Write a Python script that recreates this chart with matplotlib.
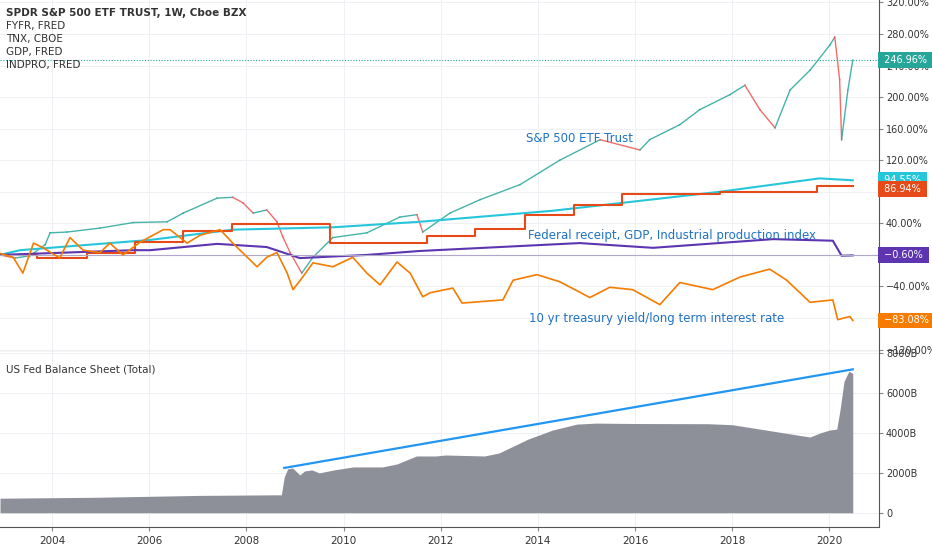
import numpy as np
import matplotlib.pyplot as plt

# S&P 500 ETF (SPY), % change
spy_t = [2002.93, 2003.24, 2003.55, 2003.86, 2003.96, 2004.31, 2004.99, 2005.67, 2006.37, 2006.70,
         2007.40, 2007.72, 2007.93, 2008.14, 2008.42, 2008.63, 2008.75, 2008.90, 2009.14, 2009.37,
         2009.78, 2010.48, 2011.16, 2011.51, 2011.63, 2012.19, 2012.81, 2013.63, 2014.45, 2015.28,
         2016.10, 2016.30, 2016.92, 2017.33, 2017.95, 2018.26, 2018.57, 2018.88, 2019.19, 2019.60,
         2020.01, 2020.11, 2020.21, 2020.25, 2020.38, 2020.48]
spy_v = [0, -4, -1, 13, 28, 29, 34, 41, 42, 53,
         72, 73, 66, 53, 57, 42, 23, 3, -23, -3,
         22, 28, 48, 51, 29, 53, 70, 89, 120, 146,
         133, 146, 165, 184, 203, 215, 184, 161, 209, 234,
         266, 276, 222, 146, 209, 246.96]

# GDP (cyan)
gdp_t = [2002.93, 2003.34, 2006.02, 2007.72, 2009.78, 2011.57, 2014.31, 2017.74, 2019.80, 2020.07, 2020.48]
gdp_v = [0, 6, 19, 32, 35, 42, 56, 80, 97, 96, 94.55]

# Federal receipts (step)
fyfr_t = [2002.93, 2003.69, 2004.72, 2005.71, 2006.70, 2007.70, 2009.72, 2011.72, 2012.70, 2013.73,
          2014.74, 2015.73, 2017.74, 2019.74, 2020.48]
fyfr_v = [0, -4, 2, 16, 30, 39, 15, 24, 33, 51, 63, 77, 80, 86.94, 86.94]

# Industrial production
indpro_t = [2002.93, 2005.67, 2006.02, 2007.40, 2008.42, 2009.10, 2010.48, 2011.57, 2014.86, 2016.37,
            2018.84, 2020.07, 2020.25, 2020.48]
indpro_v = [0, 6, 6, 14, 10, -4, 0, 5, 15, 9, 20, 18, -1, -0.6]

# 10 yr treasury yield
tnx_t = [2002.93, 2003.20, 2003.40, 2003.62, 2003.82, 2004.16, 2004.37, 2004.64, 2004.99, 2005.19,
         2005.46, 2005.81, 2006.29, 2006.43, 2006.78, 2007.05, 2007.46, 2007.72, 2008.07, 2008.22,
         2008.42, 2008.63, 2008.84, 2008.96, 2009.16, 2009.37, 2009.78, 2010.19, 2010.48, 2010.75,
         2011.10, 2011.37, 2011.63, 2011.78, 2012.25, 2012.44, 2013.28, 2013.49, 2013.98, 2014.45,
         2015.07, 2015.48, 2015.95, 2016.51, 2016.92, 2017.60, 2018.16, 2018.77, 2019.12, 2019.60,
         2020.07, 2020.17, 2020.42, 2020.48]
tnx_v = [2, -3, -23, 15, 9, -4, 22, 6, 3, 15,
         0, 16, 32, 32, 15, 25, 32, 15, -6, -15,
         -3, 3, -23, -44, -28, -10, -15, -3, -23, -38,
         -9, -23, -53, -48, -42, -61, -57, -32, -25, -34,
         -54, -41, -44, -63, -35, -44, -28, -18, -32, -60,
         -57, -82, -78, -83.08]

# US Fed balance sheet (billions)
fed_t = [2002.93, 2005.0, 2007.0, 2008.6, 2008.72, 2008.78, 2008.85, 2008.95, 2009.1, 2009.2,
         2009.35, 2009.5, 2009.8, 2010.2, 2010.8, 2011.1, 2011.5, 2011.9, 2012.1, 2012.9,
         2013.2, 2013.8, 2014.3, 2014.8, 2015.2, 2016.0, 2017.5, 2018.0, 2018.7, 2019.6,
         2019.8, 2020.0, 2020.15, 2020.22, 2020.3, 2020.4, 2020.48]
fed_v = [730, 780, 870, 900, 900, 1800, 2200, 2250, 1900, 2100,
         2150, 2000, 2150, 2300, 2300, 2450, 2850, 2850, 2900, 2850,
         3000, 3700, 4150, 4450, 4500, 4480, 4470, 4420, 4150, 3800,
         4000, 4150, 4200, 5200, 6600, 7100, 7000]
trend_t = [2008.78, 2020.48]
trend_v = [2250, 7200]

years = [2004, 2006, 2008, 2010, 2012, 2014, 2016, 2018, 2020]
pct_ticks = [320, 280, 240, 200, 160, 120, 80, 40, 0, -40, -80, -120]
fed_ticks = [0, 2000, 4000, 6000, 8000]

W, H = 932, 550
XMIN, XMAX = 2002.93, 2021.02
GRID = '#eef0f3'
TXT = '#333333'
BLUE = '#1f72c4'

fig = plt.figure(figsize=(W / 100, H / 100), dpi=100)
right = 879 / W
ax = fig.add_axes([0, 1 - 352 / H, right, 352 / H])
ax2 = fig.add_axes([0, 1 - 527 / H, right, 175 / H])

for a in (ax, ax2):
    a.set_xlim(XMIN, XMAX)
    a.set_xticks(years)
    a.grid(True, color=GRID, lw=0.8)
    a.set_axisbelow(True)
    a.yaxis.tick_right()
    a.tick_params(axis='y', length=3, pad=2, labelsize=7, labelcolor=TXT, color='#888')
    for s in ('left', 'top'):
        a.spines[s].set_visible(False)
    a.spines['right'].set_color('#555')
    a.spines['bottom'].set_color('#555')

ax.set_ylim(-123, 323)
ax.set_yticks(pct_ticks)
ax.set_yticklabels([f'{v:.2f}%'.replace('-', '\u2212') for v in pct_ticks])
ax.tick_params(axis='x', length=0, labelbottom=False)

# SPY as up/down segments
for i in range(1, len(spy_t)):
    c = '#26a69a' if spy_v[i] >= spy_v[i - 1] else '#ef5350'
    ax.plot(spy_t[i - 1:i + 1], spy_v[i - 1:i + 1], color=c, lw=1.0, alpha=0.85)
ax.axhline(spy_v[-1], color='#26a69a', lw=0.8, ls=(0, (1, 1.5)))

ax.plot(gdp_t, gdp_v, color='#26c6da', lw=1.5)
ax.step(fyfr_t, fyfr_v, where='post', color='#e64a19', lw=1.5)
ax.plot(indpro_t, indpro_v, color='#5e35b1', lw=1.5)
ax.axhline(indpro_v[-1], color='#b0a8c8', lw=0.8)
ax.plot(tnx_t, tnx_v, color='#f57c00', lw=1.2)

# right-axis value labels
for val, col in [(spy_v[-1], '#26a69a'), (gdp_v[-1], '#26c6da'), (fyfr_v[-1], '#e64a19'),
                 (indpro_v[-1], '#5e35b1'), (tnx_v[-1], '#f57c00')]:
    y = val - 3 if col == '#e64a19' else val
    ax.text(1.002, y, f' {val:.2f}% '.replace('-', '\u2212'), transform=ax.get_yaxis_transform(),
            ha='left', va='center', fontsize=7, color='white', clip_on=False, zorder=5,
            bbox=dict(boxstyle='square,pad=0.3', fc=col, ec='none'))

legend = ['SPDR S&P 500 ETF TRUST, 1W, Cboe BZX', 'FYFR, FRED', 'TNX, CBOE', 'GDP, FRED', 'INDPRO, FRED']
for i, s in enumerate(legend):
    fig.text(6 / W, 1 - (13 + 13 * i) / H, s, fontsize=7.5, color=TXT, va='center',
             fontweight='bold' if i == 0 else 'normal')

ax.text(2013.75, 147, 'S&P 500 ETF Trust', color=BLUE, fontsize=8.5, va='center')
ax.text(2013.79, 25, 'Federal receipt, GDP, Industrial production index', color=BLUE, fontsize=8.5, va='center')
ax.text(2013.81, -80, '10 yr treasury yield/long term interest rate', color=BLUE, fontsize=8.5, va='center')

# Fed balance sheet
ax2.set_ylim(-715, 8070)
ax2.set_yticks(fed_ticks)
ax2.set_yticklabels(['0', '2000B', '4000B', '6000B', '8000B'])
ax2.fill_between(fed_t, fed_v, 0, color='#8d9099', lw=0)
ax2.plot(trend_t, trend_v, color='#2196f3', lw=1.6)
ax2.tick_params(axis='x', length=3, labelsize=7.5, labelcolor=TXT, color='#888')
ax2.text(0.007, 0.93, 'US Fed Balance Sheet (Total)', transform=ax2.transAxes, fontsize=7.5,
         color=TXT, va='top')

fig.savefig('out.png', dpi=100, facecolor='white')
